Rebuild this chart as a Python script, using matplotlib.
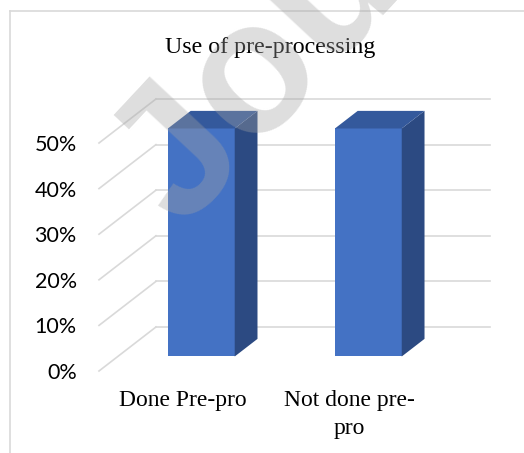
import matplotlib.pyplot as plt
from matplotlib.patches import Polygon
from matplotlib.lines import Line2D

categories = ["Done Pre-pro", "Not done pre-\npro"]
values = [50, 50]
y_ticks = [0, 10, 20, 30, 40, 50]
title = "Use of pre-processing"

W, H = 524, 453
fig = plt.figure(figsize=(W / 100, H / 100), dpi=100)

front_c, side_c, top_c = '#4472C4', '#2C4A82', '#34599C'
grid_c = '#D9D9D9'

# 3D look: depth offset of the back wall in data units
dx, dy = 0.341, 9.65
ax = fig.add_axes([99 / W, (H - 371) / H, (490 - 99) / W, (371 - 99) / H])
ax.set_xlim(-0.5, 1.5 + dx)
ax.set_ylim(0, 50 + dy)
ax.patch.set_visible(False)
for s in ax.spines.values():
    s.set_visible(False)

# side wall diagonals and back wall gridlines
for v in y_ticks:
    ax.plot([-0.5, -0.5 + dx], [v, v + dy], color=grid_c, lw=1.2, clip_on=False, zorder=1)
    ax.plot([-0.5 + dx, 1.5 + dx], [v + dy, v + dy], color=grid_c, lw=1.2, clip_on=False, zorder=1)

# bars: front face + side + top
w, fd, bd = 0.4, 0.33, 0.40
for i, v in enumerate(values):
    x0 = i - w / 2 + fd * dx
    b = fd * dy
    ax.bar(x0, v, width=w, bottom=b, align='edge', color=front_c, zorder=3)
    side = [(x0 + w, b), (x0 + w, b + v), (x0 + w + bd * dx, b + v + bd * dy), (x0 + w + bd * dx, b + bd * dy)]
    top = [(x0, b + v), (x0 + w, b + v), (x0 + w + bd * dx, b + v + bd * dy), (x0 + bd * dx, b + v + bd * dy)]
    ax.add_patch(Polygon(side, closed=True, facecolor=side_c, edgecolor='none', zorder=3))
    ax.add_patch(Polygon(top, closed=True, facecolor=top_c, edgecolor='none', zorder=3))

ax.set_yticks(y_ticks, [f"{t}%" for t in y_ticks])
ax.set_xticks(range(len(categories)), categories)
ax.tick_params(axis='y', length=0, pad=16, labelsize=15.5)
ax.tick_params(axis='x', length=0, pad=14, labelsize=17)
for lab in ax.get_yticklabels():
    lab.set_fontfamily('Lato')
for lab in ax.get_xticklabels():
    lab.set_fontfamily('Liberation Serif')
    lab.set_linespacing(1.4)

fig.text(270 / W, 1 - 53 / H, title, ha='center', va='baseline',
         fontsize=17.3, family='Liberation Serif', color='black')

# chart border
fig.add_artist(Line2D([10 / W, 10 / W], [0, 1 - 11 / H], color=grid_c, lw=1.2))
fig.add_artist(Line2D([10 / W, 1], [1 - 11 / H, 1 - 11 / H], color=grid_c, lw=1.2))

# watermark
fig.text(181 / W, 1 - 230 / H, "Jou", rotation=47, rotation_mode='anchor',
         ha='left', va='baseline', fontsize=135, family='Liberation Sans',
         fontweight='bold', color='#A4A4A4', alpha=0.36, zorder=10)

fig.savefig('out.png', dpi=100)
